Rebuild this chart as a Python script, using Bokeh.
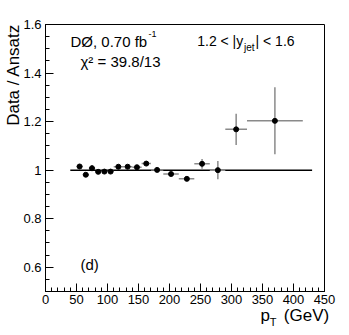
import math
from bokeh.plotting import figure
from bokeh.models import Range1d, FixedTicker, CustomJSTickFormatter, Label, ColumnDataSource
from bokeh.embed import file_html
from bokeh.resources import INLINE

# ---- data ----
pt = [55, 65, 75, 85, 95, 105, 117.5, 132.5, 147.5, 162.5, 180, 202.5, 228, 252.5, 278, 307.5, 370]
ratio = [1.015, 0.981, 1.008, 0.993, 0.994, 0.994, 1.014, 1.014, 1.012, 1.027, 1.001, 0.984, 0.964,
         1.026, 1.000, 1.168, 1.203]
err = [0.005, 0.005, 0.013, 0.004, 0.004, 0.004, 0.005, 0.005, 0.005, 0.006, 0.006, 0.007, 0.008,
       0.020, 0.038, 0.064, 0.138]
bin_lo = [50, 60, 70, 80, 90, 100, 110, 125, 140, 155, 170, 190, 215, 240, 265, 290, 325]
bin_hi = [60, 70, 80, 90, 100, 110, 125, 140, 155, 170, 190, 215, 240, 265, 290, 325, 415]
ref_x = [40, 430]
ref_y = [1.0, 1.0]
x_ticks = [0, 50, 100, 150, 200, 250, 300, 350, 400, 450]
x_minor = [v for v in range(0, 451, 10)]
y_ticks = [0.6, 0.8, 1.0, 1.2, 1.4, 1.6]
y_minor = [round(0.5 + 0.05 * i, 2) for i in range(23)]
X_MIN, X_MAX = 0, 450
Y_MIN, Y_MAX = 0.5, 1.6

FONT = "Liberation Sans"

# canvas layout: plotting box from px 45..324 (x) and 24..291 (y) on a 341x327 canvas
W, H = 341, 327
L, R, T, B = 45, 324, 24, 291
sx = (R - L) / (X_MAX - X_MIN)
sy = (B - T) / (Y_MAX - Y_MIN)
DY = -5  # correction of label baseline placement

src = ColumnDataSource(dict(
    pt=pt, ratio=ratio, lo=bin_lo, hi=bin_hi,
    ylo=[r - e for r, e in zip(ratio, err)], yhi=[r + e for r, e in zip(ratio, err)],
))

p = figure(width=W, height=H,
           x_range=Range1d(X_MIN - L / sx, X_MAX + (W - R) / sx),
           y_range=Range1d(Y_MIN - (H - B) / sy, Y_MAX + T / sy),
           output_backend="svg", toolbar_location=None,
           min_border=0, min_border_left=0, min_border_right=0, min_border_top=0, min_border_bottom=0)
p.title.visible = False
p.background_fill_color = "white"
p.border_fill_color = "white"
p.outline_line_color = None
p.xgrid.visible = False
p.ygrid.visible = False

fmt = CustomJSTickFormatter(code="return (Math.round(tick*10)/10).toString();")
for ax, tk, mn in ((p.xaxis, x_ticks, x_minor), (p.yaxis, y_ticks, y_minor)):
    ax.ticker = FixedTicker(ticks=tk, minor_ticks=mn)
    ax.formatter = fmt
    ax.major_tick_in = 8
    ax.major_tick_out = 0
    ax.minor_tick_in = 4
    ax.minor_tick_out = 0
    ax.axis_line_color = "black"
    ax.major_tick_line_color = "black"
    ax.minor_tick_line_color = "black"
    ax.major_label_text_font = FONT
    ax.major_label_text_font_size = "13px"
    ax.major_label_text_color = "black"
p.xaxis.fixed_location = Y_MIN
p.xaxis.bounds = (X_MIN, X_MAX)
p.yaxis.fixed_location = X_MIN
p.yaxis.bounds = (Y_MIN, Y_MAX)
p.xaxis.major_label_standoff = 3
p.yaxis.major_label_standoff = 4

# plotting box outline
p.quad(left=[X_MIN], right=[X_MAX], bottom=[Y_MIN], top=[Y_MAX],
       fill_color=None, line_color="black", line_width=1)

# reference line
p.line(ref_x, ref_y, line_color="black", line_width=1.5)

# error bars
p.segment(x0="lo", y0="ratio", x1="hi", y1="ratio", source=src, line_color="#8a8a8a", line_width=1.5)
p.segment(x0="pt", y0="ylo", x1="pt", y1="yhi", source=src, line_color="#8a8a8a", line_width=1.5)
# markers
p.scatter(x="pt", y="ratio", source=src, size=5, marker="circle", color="black")

def cx(px):
    return X_MIN + (px - L) / sx

def cy(py):
    return Y_MAX - (py - T) / sy

def lab(px, py, t, size, **kw):
    p.add_layout(Label(x=cx(px), y=cy(py), text=t, text_font=FONT, text_font_size=size,
                       text_color="black", text_baseline="alphabetic", **kw))

lab(70, 45.7 + DY, "DØ, 0.70 fb", "15px")
lab(148, 38 + DY, "-1", "9px")
lab(80, 66 + DY, "χ² = 39.8/13", "15px")
lab(196.7, 45.7 + DY, "1.2 < |y", "14px")
lab(243.5, 51.7 + DY, "jet", "10px")
lab(255, 45.7 + DY, "| < 1.6", "14px")
lab(80, 269 + DY, "(d)", "15px")

# axis titles
lab(260, 320 + DY, "p", "17px")
lab(269.3, 326 + DY, "T", "11px")
lab(283.3, 320 + DY, "(GeV)", "17px")
lab(18 + DY, 23.3, "Data / Ansatz", "17px", angle=math.pi / 2, text_align="right")

open("out.html", "w").write(file_html(p, INLINE))
